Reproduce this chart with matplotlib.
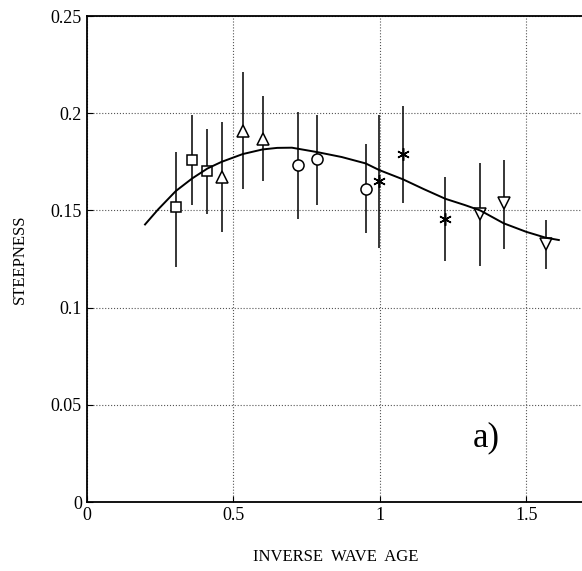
import matplotlib
matplotlib.use('Agg')
from matplotlib import pyplot as plt

plt.rcParams['font.family'] = ['Liberation Serif', 'DejaVu Serif']

# measured points, grouped by marker
sq_x = [0.304, 0.360, 0.412]
sq_y = [0.1516, 0.176, 0.1704]
sq_lo = [0.1207, 0.153, 0.148]
sq_hi = [0.180, 0.199, 0.192]

tu_x = [0.460, 0.532, 0.600]
tu_y = [0.167, 0.191, 0.187]
tu_lo = [0.139, 0.161, 0.165]
tu_hi = [0.1956, 0.221, 0.209]

ci_x = [0.7215, 0.7875, 0.952]
ci_y = [0.1734, 0.1763, 0.161]
ci_lo = [0.1454, 0.1528, 0.1385]
ci_hi = [0.2008, 0.199, 0.184]

st_x = [0.998, 1.0795, 1.224]
st_y = [0.165, 0.179, 0.1456]
st_lo = [0.1305, 0.1536, 0.124]
st_hi = [0.199, 0.2037, 0.1673]

td_x = [1.343, 1.4228, 1.566]
td_y = [0.148, 0.1536, 0.1327]
td_lo = [0.1214, 0.130, 0.120]
td_hi = [0.1742, 0.176, 0.145]

# fitted curve
fit_x = [0.199, 0.244, 0.304, 0.36, 0.412, 0.46, 0.532, 0.60, 0.65, 0.70, 0.7875,
         0.87, 0.952, 0.998, 1.0795, 1.15, 1.224, 1.29, 1.343, 1.4228, 1.50, 1.566, 1.611]
fit_y = [0.1428, 0.1506, 0.160, 0.1665, 0.1716, 0.175, 0.179, 0.1814, 0.1822, 0.1823, 0.180,
         0.1775, 0.1742, 0.1708, 0.166, 0.161, 0.156, 0.1528, 0.150, 0.1434, 0.139, 0.136, 0.1348]

fig = plt.figure(figsize=(5.82, 5.71), dpi=100)
ax = fig.add_axes([0.149, 0.1208, 0.856, 0.851])

groups = [(sq_x, sq_y, sq_lo, sq_hi, 's', 7),
          (tu_x, tu_y, tu_lo, tu_hi, '^', 8),
          (ci_x, ci_y, ci_lo, ci_hi, 'o', 8),
          (st_x, st_y, st_lo, st_hi, (6, 2, 0), 9),
          (td_x, td_y, td_lo, td_hi, 'v', 8)]

for gx, gy, lo, hi, m, ms in groups:
    ax.vlines(gx, lo, hi, color='black', lw=1.1)
    ax.plot(gx, gy, linestyle='none', marker=m, ms=ms, mfc='white', mec='black', mew=1.1)

ax.plot(fit_x, fit_y, color='black', lw=1.4)

ax.set_xlim(0, 1.7)
ax.set_ylim(0, 0.25)
ax.set_xticks([0, 0.5, 1, 1.5])
ax.set_xticklabels(['0', '0.5', '1', '1.5'])
ax.set_yticks([0, 0.05, 0.1, 0.15, 0.2, 0.25])
ax.set_yticklabels(['0', '0.05', '0.1', '0.15', '0.2', '0.25'])
ax.tick_params(direction='in', labelsize=13, length=4)
ax.grid(True, linestyle=':', color='#555555', lw=0.8)
for s in ax.spines.values():
    s.set_linewidth(1.3)

ax.set_xlabel('INVERSE  WAVE  AGE', fontsize=12, labelpad=18)
ax.set_ylabel('STEEPNESS', fontsize=12, labelpad=16)

ax.text(1.363, 0.033, 'a)', fontsize=25, ha='center', va='center')

fig.savefig('out.png', dpi=100)
